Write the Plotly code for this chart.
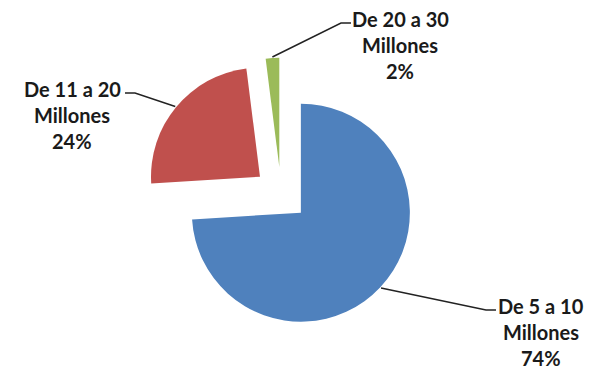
import math
import plotly.graph_objects as go

# Distribution of amounts
labels = ["De 5 a 10 Millones", "De 11 a 20 Millones", "De 20 a 30 Millones"]
values = [74, 24, 2]
label_lines = [["De 5 a 10", "Millones", "74%"],
               ["De 11 a 20", "Millones", "24%"],
               ["De 20 a 30", "Millones", "2%"]]
colors = ["#4F81BD", "#C0504D", "#9BBB59"]

W, H = 602, 372
CX, CY = 281, 194          # pie centre (px)
R = 109                    # slice radius (px)
PULL = 0.25                # explosion as a fraction of the radius

side = 2 * R * (1 + PULL)
domain_x = [(CX - side / 2) / W, (CX + side / 2) / W]
domain_y = [1 - (CY + side / 2) / H, 1 - (CY - side / 2) / H]


def px(x, y):
    return x / W, 1 - y / H


fig = go.Figure(go.Pie(
    labels=labels, values=values, sort=False, direction="clockwise",
    rotation=0, pull=[PULL] * len(values),
    marker=dict(colors=colors, line=dict(width=0)),
    textinfo="none", hoverinfo="label+percent",
    domain=dict(x=domain_x, y=domain_y),
))

# label blocks: (centre x of text, y of first line, x where the leader ends)
label_pos = [(541, 306, 496), (72, 89, 125), (400, 19, 351)]
line_gap = 26
font = dict(family="Lato", size=20, color="#1A1A1A")

total = sum(values)
start = 90.0
shapes, annotations = [], []
for i, v in enumerate(values):
    sweep = 360 * v / total
    mid = math.radians(start - sweep / 2)
    start -= sweep
    # apex of the exploded slice, then the arc point at the mid angle
    ax = CX + PULL * R * math.cos(mid)
    ay = CY - PULL * R * math.sin(mid)
    ex = ax + (R + 1) * math.cos(mid)
    ey = ay - (R + 1) * math.sin(mid)

    tx, ty, kx = label_pos[i]
    for k, line in enumerate(label_lines[i]):
        xx, yy = px(tx, ty + k * line_gap)
        annotations.append(dict(x=xx, y=yy, xref="paper", yref="paper",
                                text="<b>%s</b>" % line, showarrow=False,
                                font=font, xanchor="center", yanchor="middle"))
    bx = kx - 10 if kx < tx else kx + 10
    p0 = px(ex, ey)
    p1 = px(bx, ty + 4)
    p2 = px(kx, ty + 4)
    path = "M %f %f L %f %f L %f %f" % (p0[0], p0[1], p1[0], p1[1], p2[0], p2[1])
    shapes.append(dict(type="path", path=path, xref="paper", yref="paper",
                       line=dict(color="#222222", width=1.5)))

fig.update_layout(
    width=W, height=H, margin=dict(l=0, r=0, t=0, b=0),
    paper_bgcolor="white", plot_bgcolor="white", showlegend=False,
    shapes=shapes, annotations=annotations,
)

fig.write_html("out.html")
